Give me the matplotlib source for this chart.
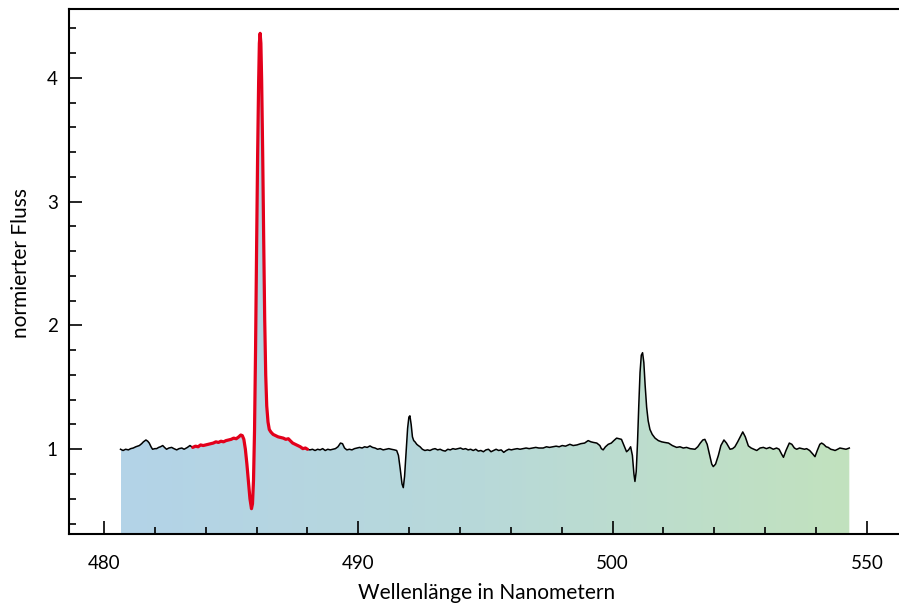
import numpy as np
import matplotlib
matplotlib.use("Agg")
import matplotlib.pyplot as plt
from matplotlib.patches import PathPatch
from matplotlib.path import Path
from matplotlib.colors import LinearSegmentedColormap
from matplotlib.ticker import MultipleLocator, FixedLocator

plt.rcParams['font.family'] = ['Lato', 'DejaVu Sans']

# ---- data ----
wavelength = [
    480.65, 480.75, 480.85, 480.96, 481.05, 481.15, 481.25, 481.39, 481.48, 481.55,
    481.65, 481.72, 481.78, 481.85, 481.91, 482.00, 482.07, 482.15, 482.22, 482.31,
    482.38, 482.46, 482.55, 482.66, 482.75, 482.86, 482.95, 483.06, 483.15, 483.28,
    483.38, 483.49, 483.60, 483.70, 483.80, 483.90, 484.00, 484.10, 484.20, 484.30,
    484.40, 484.50, 484.60, 484.70, 484.80, 484.90, 485.00, 485.10, 485.20, 485.30,
    485.38, 485.44, 485.50, 485.56, 485.62, 485.68, 485.74, 485.80, 485.84, 485.88,
    485.92, 485.96, 486.00, 486.04, 486.08, 486.11, 486.14, 486.17, 486.20, 486.24,
    486.28, 486.32, 486.36, 486.40, 486.45, 486.50, 486.56, 486.65, 486.75, 486.85,
    486.95, 487.05, 487.15, 487.25, 487.32, 487.42, 487.52, 487.62, 487.72, 487.82,
    487.92, 488.00, 488.10, 488.20, 488.30, 488.40, 488.50, 488.60, 488.70, 488.80,
    488.90, 489.00, 489.10, 489.20, 489.30, 489.38, 489.46, 489.55, 489.65, 489.75,
    489.85, 489.95, 490.05, 490.15, 490.25, 490.35, 490.46, 490.56, 490.66, 490.76,
    490.86, 490.98, 491.10, 491.20, 491.30, 491.42, 491.51, 491.58, 491.65, 491.72,
    491.77, 491.82, 491.88, 491.94, 491.99, 492.03, 492.08, 492.13, 492.18, 492.23,
    492.30, 492.36, 492.43, 492.52, 492.62, 492.72, 492.82, 492.92, 493.02, 493.12,
    493.22, 493.32, 493.42, 493.52, 493.62, 493.72, 493.82, 493.92, 494.02, 494.12,
    494.22, 494.32, 494.42, 494.52, 494.62, 494.72, 494.82, 494.92, 495.02, 495.12,
    495.22, 495.32, 495.42, 495.52, 495.62, 495.72, 495.82, 495.92, 496.02, 496.12,
    496.25, 496.36, 496.48, 496.60, 496.72, 496.85, 496.98, 497.10, 497.27, 497.40,
    497.52, 497.65, 497.78, 497.90, 498.02, 498.15, 498.32, 498.45, 498.60, 498.75,
    498.90, 499.04, 499.15, 499.25, 499.38, 499.50, 499.56, 499.63, 499.72, 499.83,
    499.95, 500.05, 500.16, 500.26, 500.35, 500.45, 500.55, 500.63, 500.71, 500.78,
    500.84, 500.88, 500.93, 500.98, 501.03, 501.08, 501.13, 501.18, 501.23, 501.28,
    501.34, 501.40, 501.47, 501.56, 501.67, 501.80, 501.93, 502.05, 502.20, 502.35,
    502.52, 502.65, 502.78, 502.91, 503.05, 503.24, 503.35, 503.45, 503.55, 503.63,
    503.72, 503.82, 503.90, 503.96, 504.05, 504.16, 504.26, 504.38, 504.48, 504.62,
    504.72, 504.81, 504.92, 505.02, 505.12, 505.22, 505.34, 505.45, 505.56, 505.67,
    505.80, 505.93, 506.05, 506.18, 506.32, 506.45, 506.55, 506.65, 506.72, 506.82,
    506.95, 507.05, 507.15, 507.24, 507.35, 507.45, 507.55, 507.63, 507.75, 507.88,
    507.96, 508.05, 508.15, 508.22, 508.30, 508.40, 508.48, 508.58, 508.68, 508.75,
    508.85, 508.94, 509.05, 509.18, 509.31,
]
flux = [
    1.000, 0.990, 1.000, 0.995, 1.005, 1.010, 1.020, 1.030, 1.045, 1.060,
    1.075, 1.065, 1.050, 1.020, 1.000, 1.005, 1.005, 1.015, 1.020, 1.030,
    1.015, 1.000, 1.010, 1.015, 1.005, 0.995, 1.005, 1.010, 1.000, 1.015,
    1.030, 1.015, 1.025, 1.020, 1.035, 1.030, 1.035, 1.040, 1.045, 1.050,
    1.060, 1.055, 1.065, 1.060, 1.070, 1.075, 1.080, 1.090, 1.085, 1.100,
    1.115, 1.110, 1.080, 1.000, 0.880, 0.740, 0.600, 0.520, 0.560, 0.750,
    1.150, 1.800, 2.600, 3.350, 3.950, 4.280, 4.360, 4.280, 3.980, 3.400,
    2.700, 2.050, 1.600, 1.350, 1.220, 1.160, 1.140, 1.120, 1.110, 1.100,
    1.095, 1.090, 1.080, 1.085, 1.070, 1.050, 1.040, 1.030, 1.020, 1.005,
    1.010, 1.000, 0.995, 1.000, 0.990, 1.000, 0.995, 1.005, 0.990, 1.000,
    0.995, 1.000, 1.005, 1.020, 1.050, 1.045, 1.010, 0.995, 1.000, 0.995,
    1.005, 1.010, 1.015, 1.010, 1.020, 1.015, 1.027, 1.015, 1.010, 1.000,
    1.005, 0.995, 1.000, 1.005, 1.000, 0.995, 0.990, 0.950, 0.840, 0.720,
    0.690, 0.780, 0.980, 1.170, 1.260, 1.270, 1.200, 1.100, 1.070, 1.060,
    1.040, 1.030, 1.020, 1.000, 0.990, 0.995, 0.990, 1.000, 1.005, 0.995,
    1.000, 0.990, 0.985, 1.000, 0.995, 1.005, 1.000, 1.005, 1.010, 1.000,
    1.005, 0.995, 1.000, 0.990, 1.000, 0.985, 0.990, 0.980, 0.995, 1.000,
    0.980, 0.990, 1.000, 0.990, 0.995, 0.975, 0.990, 1.000, 0.995, 1.000,
    1.005, 1.000, 1.005, 1.010, 1.005, 1.010, 1.015, 1.010, 1.010, 1.020,
    1.015, 1.020, 1.025, 1.020, 1.030, 1.025, 1.040, 1.030, 1.035, 1.045,
    1.050, 1.070, 1.060, 1.055, 1.050, 1.030, 1.005, 0.995, 1.020, 1.040,
    1.050, 1.070, 1.090, 1.085, 1.080, 1.030, 0.980, 0.995, 1.020, 0.950,
    0.800, 0.740, 0.820, 1.050, 1.350, 1.620, 1.760, 1.780, 1.700, 1.520,
    1.340, 1.230, 1.160, 1.120, 1.090, 1.070, 1.060, 1.055, 1.050, 1.030,
    1.015, 1.020, 1.010, 1.015, 1.005, 1.000, 1.020, 1.050, 1.075, 1.080,
    1.040, 0.950, 0.880, 0.860, 0.880, 0.950, 1.030, 1.075, 1.050, 1.000,
    1.005, 1.020, 1.060, 1.100, 1.140, 1.100, 1.027, 1.010, 1.000, 0.990,
    1.010, 1.015, 1.005, 1.015, 1.000, 1.010, 1.000, 0.960, 0.935, 0.990,
    1.050, 1.040, 1.010, 1.000, 1.010, 1.005, 1.000, 1.005, 0.990, 0.960,
    0.940, 0.990, 1.040, 1.050, 1.040, 1.020, 1.015, 1.000, 0.995, 0.990,
    1.000, 1.010, 1.005, 1.000, 1.010,
]
highlight_range = [483.45, 488.00]   # H-beta region drawn in red

x_tick_values = [480, 490, 500, 510]
x_tick_labels = ["480", "490", "500", "550"]
y_tick_values = [1, 2, 3, 4]

# ---- figure ----
fig = plt.figure(figsize=(8.99, 6.07), dpi=100)
ax = fig.add_axes([69 / 899, 1 - 534.3 / 607, (905 - 69) / 899, (534.3 - 9.3) / 607])

wl = np.array(wavelength)
fx = np.array(flux)
ybot, ytop = 0.313, 4.554
xleft, xright = 478.624, 511.5

# gradient fill under spectrum
cmap = LinearSegmentedColormap.from_list("bg", ["#b3d3e8", "#b8d9d9", "#c2e2be"])
grad = np.linspace(0, 1, 512).reshape(1, -1)
im = ax.imshow(grad, extent=[wl[0], wl[-1], ybot - 0.1, fx.max()], aspect="auto",
               cmap=cmap, origin="lower", zorder=1, interpolation="bilinear")
verts = [(wl[0], ybot - 0.1)] + list(zip(wl, fx)) + [(wl[-1], ybot - 0.1), (wl[0], ybot - 0.1)]
codes = [Path.MOVETO] + [Path.LINETO] * (len(verts) - 2) + [Path.CLOSEPOLY]
patch = PathPatch(Path(verts, codes), transform=ax.transData, facecolor="none", edgecolor="none")
ax.add_patch(patch)
im.set_clip_path(patch)

# spectrum lines
ax.plot(wl, fx, color="black", lw=1.1, zorder=3)
m = (wl >= highlight_range[0]) & (wl <= highlight_range[1])
ax.plot(wl[m], fx[m], color="#e3001b", lw=2.3, zorder=4, solid_capstyle="round")

ax.set_xlim(xleft, xright)
ax.set_ylim(ybot, ytop)

ax.xaxis.set_major_locator(FixedLocator(x_tick_values))
ax.set_xticklabels(x_tick_labels)
ax.xaxis.set_minor_locator(MultipleLocator(2))
ax.yaxis.set_major_locator(FixedLocator(y_tick_values))
ax.yaxis.set_minor_locator(MultipleLocator(0.2))

for s in ax.spines.values():
    s.set_linewidth(1.5)
ax.tick_params(which="both", direction="in", top=False, right=False, width=1.2, colors="black")
ax.tick_params(which="major", length=9.5, labelsize=13.5)
ax.tick_params(which="minor", length=4.8)
ax.tick_params(axis="x", which="major", pad=15)
ax.tick_params(axis="y", which="major", pad=8)

ax.set_xlabel("Wellenlänge in Nanometern", fontsize=15)
ax.set_ylabel("normierter Fluss", fontsize=15)
ax.xaxis.set_label_coords(0.5, -0.093)
ax.yaxis.set_label_coords(-0.046, 0.517)

fig.savefig("out.png", dpi=100)
